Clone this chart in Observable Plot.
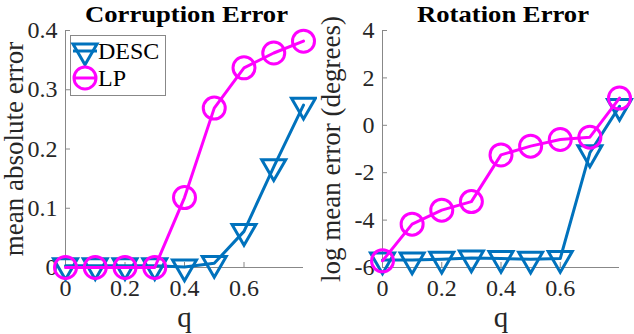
<!DOCTYPE html>
<html>
<head>
<meta charset="utf-8">
<script src="https://cdn.jsdelivr.net/npm/d3@7"></script>
<script src="https://cdn.jsdelivr.net/npm/@observablehq/plot@0.6"></script>
<style>
  html, body { margin: 0; padding: 0; background: #fff; }
  #wrap { position: relative; width: 634px; height: 334px; display: flex; }
  #wrap svg, #wrap svg text { font-family: "Liberation Serif", "DejaVu Serif", serif !important; }
  #legend { position: absolute; left: 70px; top: 35px; }
</style>
</head>
<body>
<div id="wrap"></div>
<script>
// ---- data ----
const q = [0, 0.1, 0.2, 0.3, 0.4, 0.5, 0.6, 0.7, 0.8];
const descCorruption = [0.003, 0.003, 0.003, 0.003, 0.001, 0.007, 0.061, 0.170, 0.274];
const lpCorruption   = [0, 0, 0, 0, 0.118, 0.269, 0.337, 0.362, 0.382];
const descRotation = [-5.68, -5.68, -5.65, -5.6, -5.62, -5.65, -5.62, -1.16, 0.8];
const lpRotation   = [-5.72, -4.17, -3.58, -3.22, -1.25, -0.88, -0.6, -0.5, 1.15];
const xTicks = [0, 0.2, 0.4, 0.6];
const yTicksCorr = [0, 0.1, 0.2, 0.3, 0.4];
const yTicksRot = [-6, -4, -2, 0, 2, 4];
const seriesNames = ["DESC", "LP"];
const titles = ["Corruption Error", "Rotation Error"];
const yLabels = ["mean absolute error", "log mean error (degrees)"];
const xLabel = "q";

const BLUE = "#0072BD", MAGENTA = "#FF00FF";
const AXIS = "#888888", TEXT = "#262626";
const FONT = '"Liberation Serif", "DejaVu Serif", serif';

const triDown = {
  draw(ctx, size) {
    const y = -Math.sqrt(size / (3 * Math.sqrt(3)));
    ctx.moveTo(0, -2 * y);
    ctx.lineTo(-Math.sqrt(3) * y, y);
    ctx.lineTo(Math.sqrt(3) * y, y);
    ctx.closePath();
  }
};

function panel({desc, lp, yDomain, yTicks, title, titleWidth, yLabel, marginRight}) {
  const dDesc = q.map((v, i) => ({q: v, y: desc[i]}));
  const dLp = q.map((v, i) => ({q: v, y: lp[i]}));
  const svg = Plot.plot({
    width: 317, height: 334,
    marginLeft: 65, marginRight, marginTop: 30, marginBottom: 67,
    style: {fontFamily: FONT, background: "white", overflow: "visible"},
    x: {domain: [0, 0.8]},
    y: {domain: yDomain},
    marks: [
      Plot.ruleX([0], {stroke: AXIS, strokeWidth: 1}),
      Plot.ruleY([yDomain[0]], {stroke: AXIS, strokeWidth: 1}),
      Plot.axisX(xTicks, {tickSize: -5, tickPadding: 16, stroke: AXIS, fill: TEXT, fontSize: 24,
        fontFamily: FONT, tickFormat: d => String(d), label: null}),
      Plot.axisY(yTicks, {tickSize: -5, tickPadding: 13, stroke: AXIS, fill: TEXT, fontSize: 24,
        fontFamily: FONT, tickFormat: d => String(d), label: null}),
      Plot.line(dDesc, {x: "q", y: "y", stroke: BLUE, strokeWidth: 3}),
      Plot.dot(dDesc, {x: "q", y: "y", symbol: triDown, r: 8.9, stroke: BLUE, strokeWidth: 3, fill: "none"}),
      Plot.line(dLp, {x: "q", y: "y", stroke: MAGENTA, strokeWidth: 3}),
      Plot.dot(dLp, {x: "q", y: "y", symbol: "circle", r: 11, stroke: MAGENTA, strokeWidth: 3, fill: "none"}),
      Plot.text([title], {frameAnchor: "top", dy: -8.5, dx: 2, lineAnchor: "bottom", fontWeight: "bold",
        fontSize: 24, fontFamily: FONT, fill: "black"}),
      Plot.text([xLabel], {frameAnchor: "bottom", dy: 59, lineAnchor: "bottom", fontSize: 29,
        fontFamily: FONT, fill: TEXT}),
      Plot.text([yLabel], {frameAnchor: "left", dx: -43, rotate: -90, lineAnchor: "bottom",
        textAnchor: "middle", fontSize: 27, fontFamily: FONT, fill: TEXT})
    ]
  });
  // widen the bold title to the reference's width
  d3.select(svg).selectAll("text").filter(function() { return this.textContent === title; })
    .attr("textLength", titleWidth).attr("lengthAdjust", "spacingAndGlyphs");
  return svg;
}

const wrap = document.getElementById("wrap");
wrap.append(panel({desc: descCorruption, lp: lpCorruption, yDomain: [0, 0.4], yTicks: yTicksCorr,
  title: titles[0], titleWidth: 203, yLabel: yLabels[0], marginRight: 14}));
wrap.append(panel({desc: descRotation, lp: lpRotation, yDomain: [-6, 4], yTicks: yTicksRot,
  title: titles[1], titleWidth: 172, yLabel: yLabels[1], marginRight: 15}));

// ---- legend ----
const lg = d3.select(wrap).append("svg").attr("id", "legend")
  .attr("width", 96).attr("height", 61)
  .style("font-family", FONT);
lg.append("rect").attr("x", 0.5).attr("y", 0.5).attr("width", 95).attr("height", 60)
  .attr("fill", "white").attr("stroke", AXIS);
const entries = [
  {name: seriesNames[0], color: BLUE, sym: triDown, size: 8.9 * 8.9 * Math.PI},
  {name: seriesNames[1], color: MAGENTA, sym: d3.symbolCircle, size: 11 * 11 * Math.PI}
];
entries.forEach((e, i) => {
  const cy = 16 + i * 27;
  const g = lg.append("g");
  g.append("line").attr("x1", 3).attr("x2", 27).attr("y1", cy).attr("y2", cy)
    .attr("stroke", e.color).attr("stroke-width", 3);
  g.append("path").attr("d", d3.symbol(e.sym, e.size)()).attr("transform", `translate(15,${cy})`)
    .attr("fill", "none").attr("stroke", e.color).attr("stroke-width", 3);
  g.append("text").attr("x", 28).attr("y", cy + 8).attr("font-size", 24).attr("fill", "black")
    .attr("font-family", FONT).text(e.name);
});
</script>
</body>
</html>
